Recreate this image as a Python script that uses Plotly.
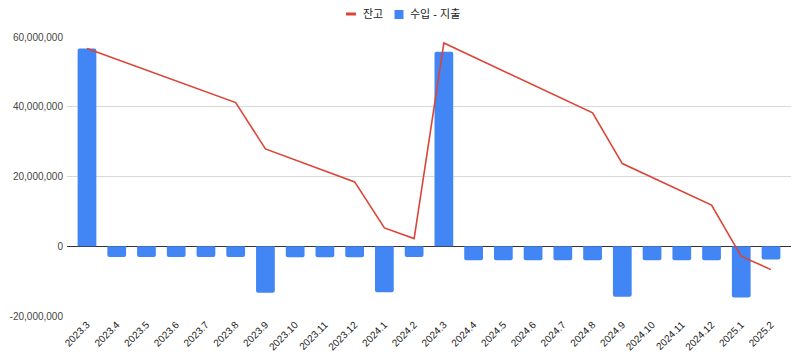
import plotly.graph_objects as go

months = ["2023.3", "2023.4", "2023.5", "2023.6", "2023.7", "2023.8", "2023.9", "2023.10",
          "2023.11", "2023.12", "2024.1", "2024.2", "2024.3", "2024.4", "2024.5", "2024.6",
          "2024.7", "2024.8", "2024.9", "2024.10", "2024.11", "2024.12", "2025.1", "2025.2"]

net_flow = [56700000, -3100000, -3100000, -3100000, -3100000, -3100000, -13300000, -3150000,
            -3150000, -3150000, -13200000, -3050000, 55750000, -4000000, -4000000, -4000000,
            -4000000, -4000000, -14500000, -4000000, -4000000, -4000000, -14700000, -3800000]

balance = [56700000, 53600000, 50500000, 47400000, 44300000, 41200000, 27900000, 24750000,
           21600000, 18450000, 5250000, 2200000, 58300000, 54300000, 50300000, 46300000,
           42300000, 38250000, 23700000, 19700000, 15700000, 11800000, -2900000, -6700000]

y_ticks = [-20000000, 0, 20000000, 40000000, 60000000]
y_tick_labels = ["-20,000,000", "0", "20,000,000", "40,000,000", "60,000,000"]

FONT = "Arial, 'Liberation Sans', 'Noto Sans CJK KR', sans-serif"
LINE_COLOR = "#DB4437"
BAR_COLOR = "#4285F4"

# page body has an 8px margin, so the figure is drawn at (8, 8)
OFF = 8
W, H = 800 - OFF, 358 - OFF
PL, PR, PT, PB = 67 - OFF, 9, 37 - OFF, 42
PW = W - PL - PR
PH = H - PT - PB


def px_x(x):
    return (x - OFF - PL) / PW


def px_y(y):
    return (H - PB - (y - OFF)) / PH


fig = go.Figure()
fig.add_trace(go.Bar(
    x=months, y=net_flow, name="수입 - 지출",
    marker=dict(color=BAR_COLOR, line=dict(width=0)),
    width=0.63, showlegend=False,
))
fig.add_trace(go.Scatter(
    x=months, y=balance, name="잔고", mode="lines",
    line=dict(color=LINE_COLOR, width=1.6), showlegend=False,
))

# legend drawn manually (compact, like the reference)
shapes = [
    dict(type="line", xref="paper", yref="paper",
         x0=px_x(346), x1=px_x(356), y0=px_y(14), y1=px_y(14),
         line=dict(color=LINE_COLOR, width=3)),
    dict(type="rect", xref="paper", yref="paper",
         x0=px_x(394.5), x1=px_x(403.5), y0=px_y(19), y1=px_y(10),
         fillcolor=BAR_COLOR, line=dict(width=0)),
]
annotations = [
    dict(text="잔고", xref="paper", yref="paper", x=px_x(361), y=px_y(14),
         xanchor="left", yanchor="middle", showarrow=False,
         font=dict(size=11, color="#222222")),
    dict(text="수입 - 지출", xref="paper", yref="paper", x=px_x(408), y=px_y(14),
         xanchor="left", yanchor="middle", showarrow=False,
         font=dict(size=11, color="#222222")),
]

fig.update_layout(
    width=W, height=H,
    margin=dict(l=PL, r=PR, t=PT, b=PB, autoexpand=False),
    paper_bgcolor="white", plot_bgcolor="white",
    font=dict(family=FONT, size=10, color="#444444"),
    barcornerradius=2,
    showlegend=False,
    shapes=shapes,
    annotations=annotations,
    xaxis=dict(
        type="category", range=[-0.672, 23.672], showgrid=False, zeroline=False,
        tickangle=-45, tickfont=dict(size=10, color="#222222"), ticks="",
        showline=False, automargin=False,
    ),
    yaxis=dict(
        range=[-20000000, 60000000], tickvals=y_ticks, ticktext=y_tick_labels,
        showgrid=True, gridcolor="#D9D9D9", gridwidth=1,
        zeroline=True, zerolinecolor="#333333", zerolinewidth=1,
        tickfont=dict(size=10, color="#444444"), ticks="", ticklabelstandoff=3,
        automargin=False,
    ),
)

fig.write_html("out.html")
